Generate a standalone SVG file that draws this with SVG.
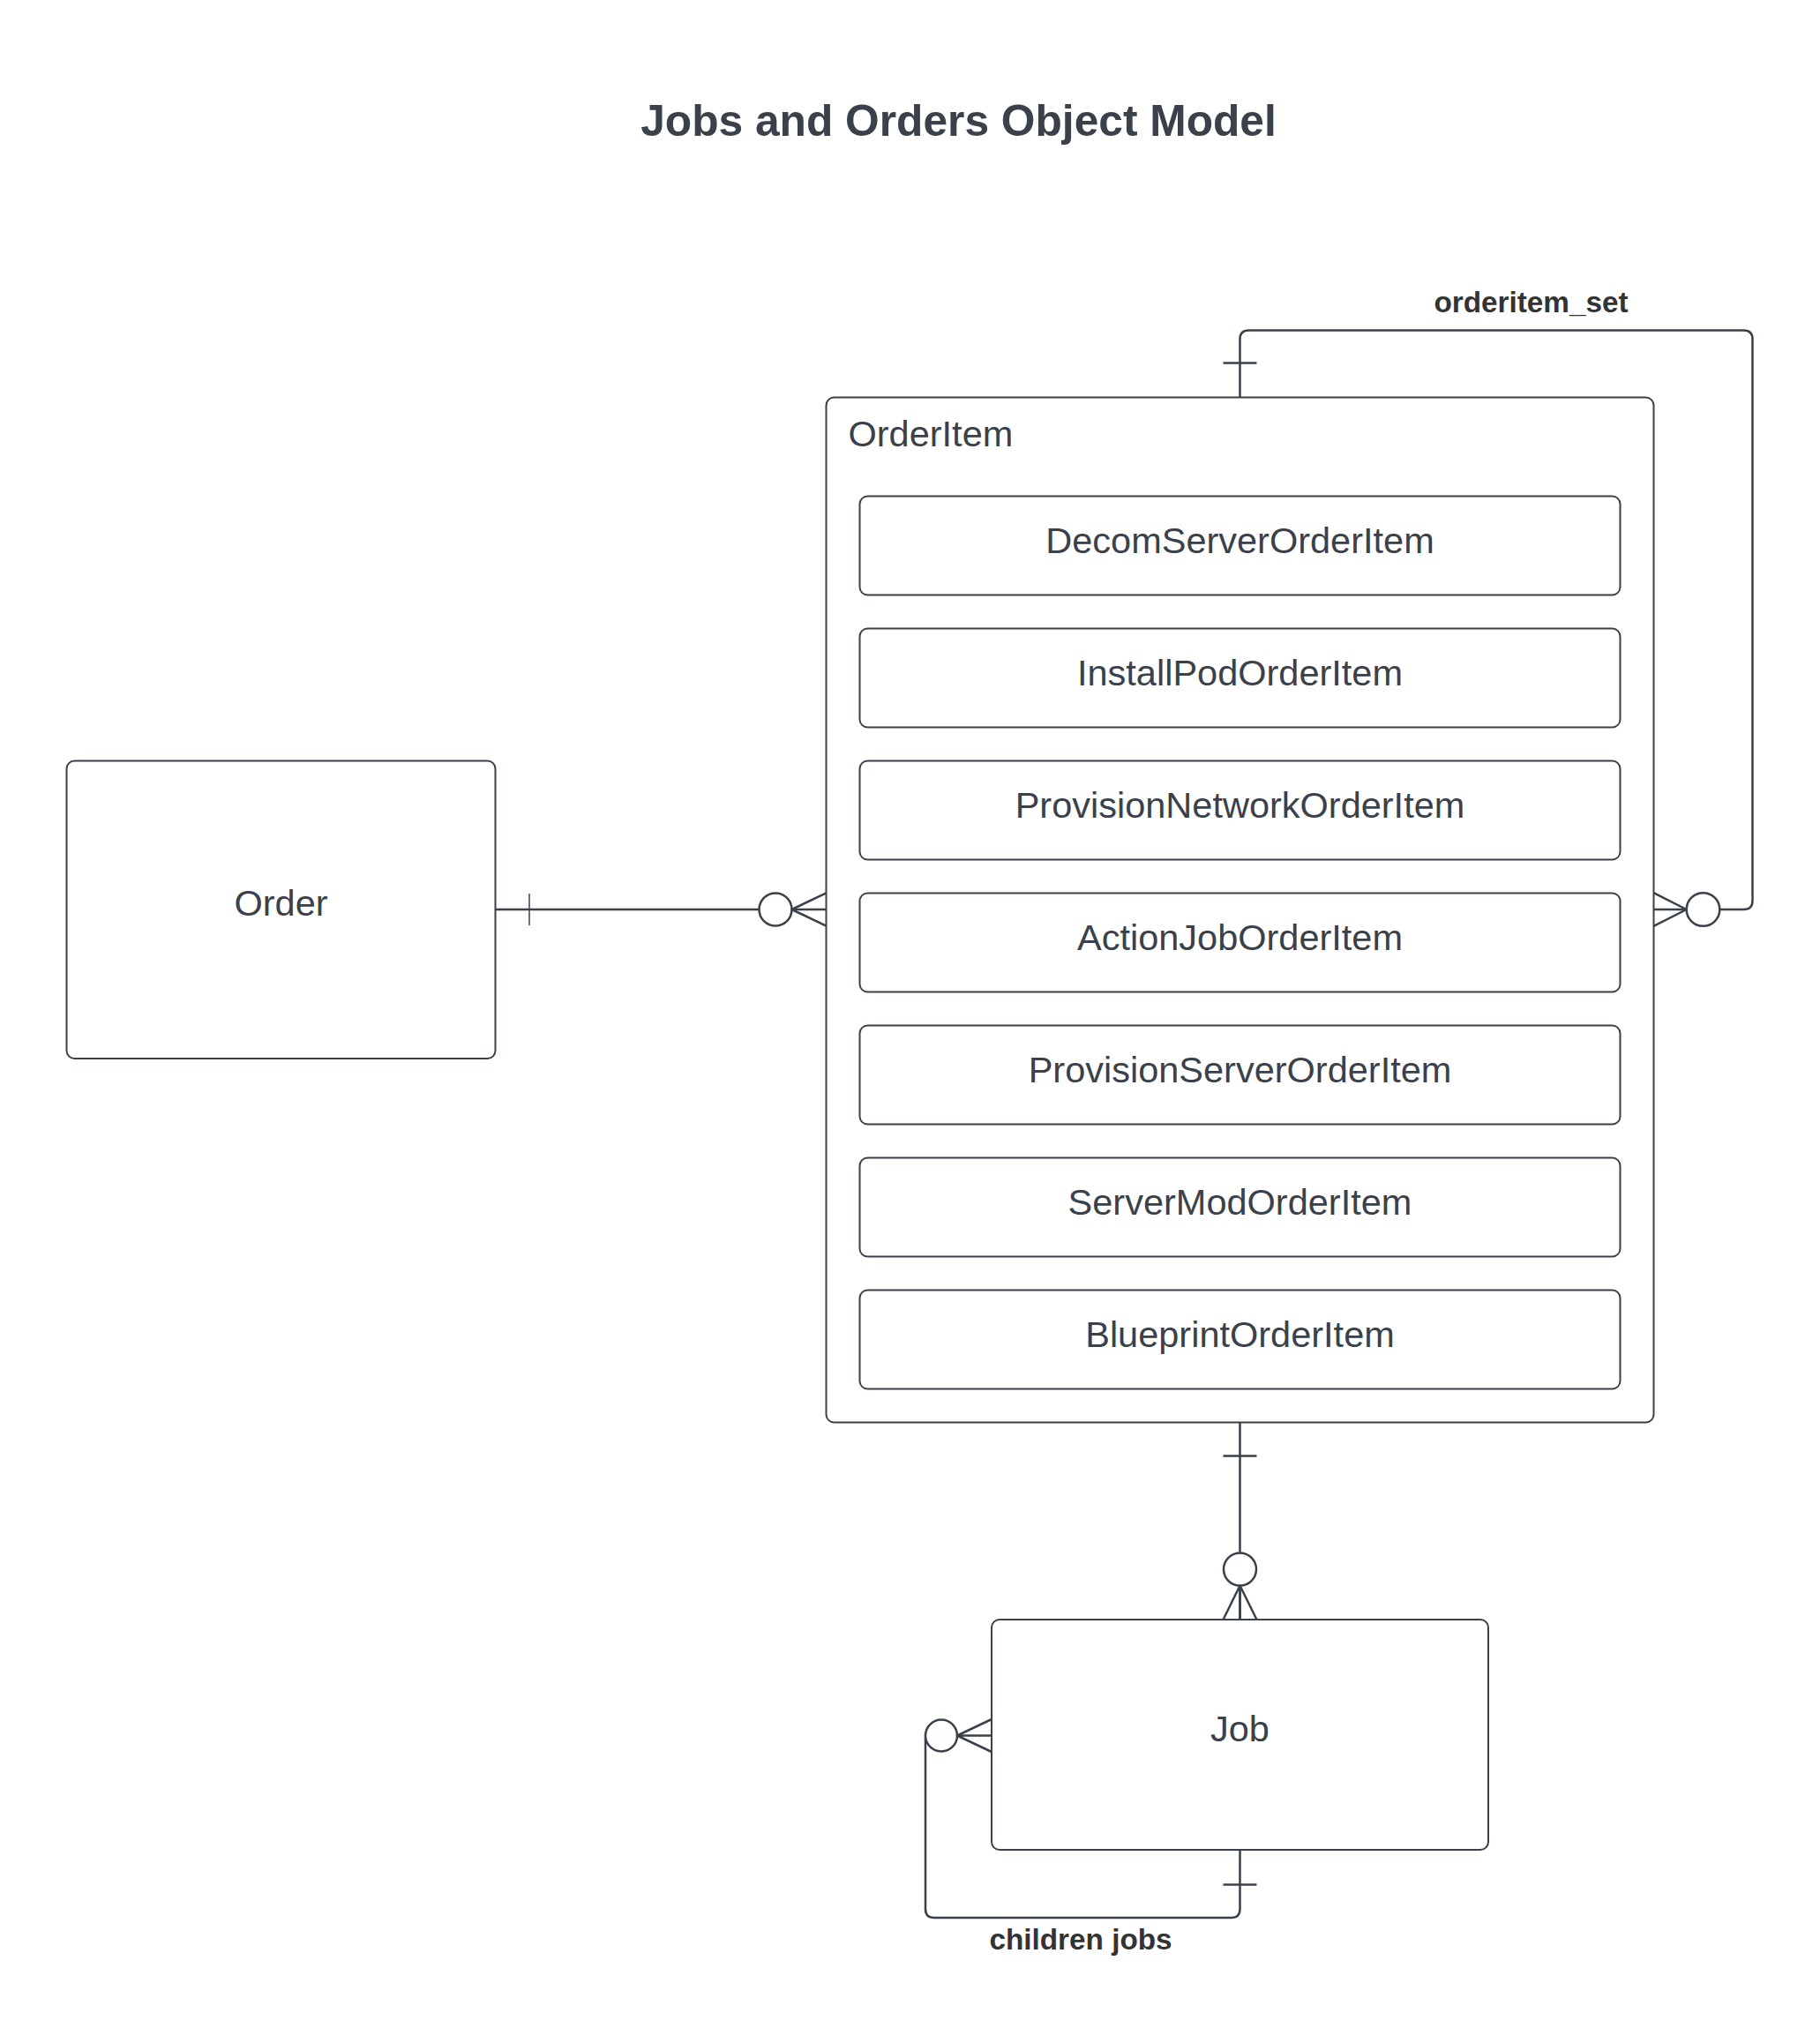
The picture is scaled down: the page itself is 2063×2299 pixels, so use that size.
<svg xmlns="http://www.w3.org/2000/svg" width="2063" height="2299" viewBox="0 0 2063 2299">
<style>
.box{fill:#ffffff;stroke:#3a414a;stroke-width:2}
.lbl{font-family:"Liberation Sans",Arial,sans-serif;font-size:41.5px;fill:#3a414a}
.mid{text-anchor:middle}
.ln{fill:none;stroke:#3a414a;stroke-width:2.5;stroke-linejoin:round}
.thin{fill:none;stroke:#3a414a;stroke-width:1.5}
.ring{fill:#ffffff;stroke:#3a414a;stroke-width:2.5}
.clbl{font-family:"Liberation Sans",Arial,sans-serif;font-size:33.3px;font-weight:bold;fill:#333333;text-anchor:middle}
</style>
<rect width="2063" height="2299" fill="#ffffff"/>
<text x="1086.5" y="153.5" font-family="Liberation Sans, Arial, sans-serif" font-size="49.7" font-weight="bold" fill="#3a414a" text-anchor="middle">Jobs and Orders Object Model</text>

<g id="order">
<rect class="box" x="75.5" y="862.5" width="486" height="337.5" rx="9"/>
<text class="lbl mid" x="318.5" y="1038">Order</text>
</g>

<g id="orderitem">
<rect class="box" x="936.5" y="450.5" width="938" height="1162" rx="9"/>
<text class="lbl" x="961.5" y="506">OrderItem</text>
</g>
<g id="decomserverorderitem">
<rect class="box" x="974.5" y="562.5" width="862" height="112" rx="9"/>
<text class="lbl mid" x="1405.5" y="627">DecomServerOrderItem</text>
</g>
<g id="installpodorderitem">
<rect class="box" x="974.5" y="712.5" width="862" height="112" rx="9"/>
<text class="lbl mid" x="1405.5" y="777">InstallPodOrderItem</text>
</g>
<g id="provisionnetworkorderitem">
<rect class="box" x="974.5" y="862.5" width="862" height="112" rx="9"/>
<text class="lbl mid" x="1405.5" y="927">ProvisionNetworkOrderItem</text>
</g>
<g id="actionjoborderitem">
<rect class="box" x="974.5" y="1012.5" width="862" height="112" rx="9"/>
<text class="lbl mid" x="1405.5" y="1077">ActionJobOrderItem</text>
</g>
<g id="provisionserverorderitem">
<rect class="box" x="974.5" y="1162.5" width="862" height="112" rx="9"/>
<text class="lbl mid" x="1405.5" y="1227">ProvisionServerOrderItem</text>
</g>
<g id="servermodorderitem">
<rect class="box" x="974.5" y="1312.5" width="862" height="112" rx="9"/>
<text class="lbl mid" x="1405.5" y="1377">ServerModOrderItem</text>
</g>
<g id="blueprintorderitem">
<rect class="box" x="974.5" y="1462.5" width="862" height="112" rx="9"/>
<text class="lbl mid" x="1405.5" y="1527">BlueprintOrderItem</text>
</g>

<g id="job">
<rect class="box" x="1124" y="1836" width="563" height="261" rx="9"/>
<text class="lbl mid" x="1405.5" y="1974">Job</text>
</g>

<g id="connectors">
<!-- Order to OrderItem -->
<path class="ln" d="M561.5 1031 H936.5"/>
<path class="thin" d="M600 1013 V1049"/>
<circle class="ring" cx="879" cy="1031" r="18.5"/>
<path class="ln" d="M936.5 1012.3 L897.5 1031 L936.5 1049.7"/>

<!-- OrderItem self relation -->
<path class="ln" d="M1405.5 450.5 V384.5 Q1405.5 374.5 1415.5 374.5 H1976.5 Q1986.5 374.5 1986.5 384.5 V1021 Q1986.5 1031 1976.5 1031 H1949.3"/>
<path class="ln" d="M1386.5 411.5 H1424.5"/>
<circle class="ring" cx="1930.5" cy="1031" r="18.8"/>
<path class="ln" d="M1874.5 1012.2 L1911.7 1031 L1874.5 1049.8 M1874.5 1031 H1911.7"/>
<text class="clbl" x="1735.5" y="354">orderitem_set</text>

<!-- OrderItem to Job -->
<path class="ln" d="M1405.5 1612.5 V1836"/>
<path class="ln" d="M1386.5 1650.5 H1424.5"/>
<circle class="ring" cx="1405.5" cy="1779" r="18.5"/>
<path class="ln" d="M1386.5 1836 L1405.5 1797.5 L1424.5 1836 M1405.5 1797.5 V1836"/>

<!-- Job self relation -->
<path class="ln" d="M1049 1967.5 V2164 Q1049 2174 1059 2174 H1395.5 Q1405.5 2174 1405.5 2164 V2097"/>
<path class="ln" d="M1386.5 2136.5 H1424.5"/>
<circle class="ring" cx="1067" cy="1967.5" r="18"/>
<path class="ln" d="M1124 1949 L1085 1967.5 L1124 1986 M1124 1967.5 H1085"/>
<text class="clbl" x="1225" y="2209.5">children jobs</text>
</g>
</svg>
